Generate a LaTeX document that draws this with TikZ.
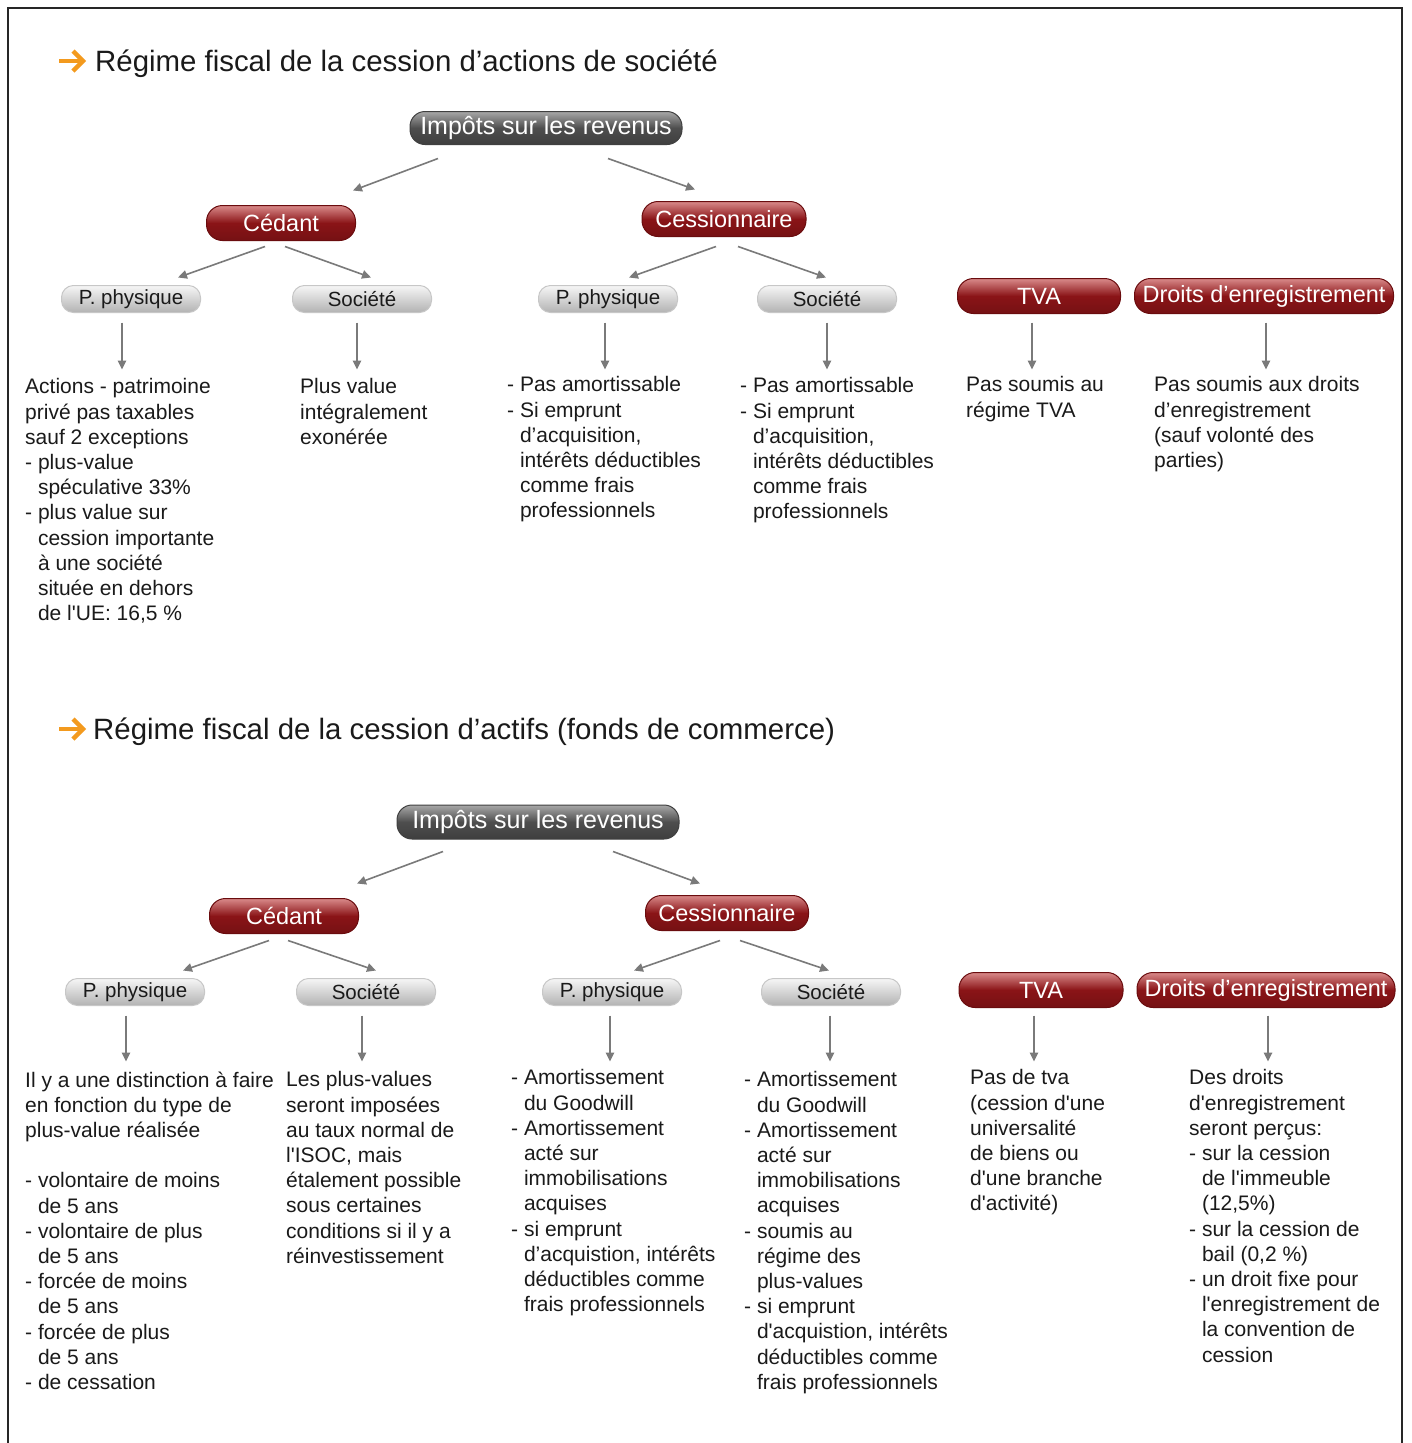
\documentclass[tikz,border=0pt]{standalone}
\usepackage{fontspec}
\setmainfont{Liberation Sans}
\usetikzlibrary{arrows.meta,calc}
\definecolor{txt}{HTML}{1A1A1A}
\definecolor{arrowgray}{HTML}{7A7A7A}
\definecolor{pillred}{HTML}{8A1417}
\definecolor{pillredlt}{HTML}{D98A8A}
\definecolor{pillredbd}{HTML}{6A0C0E}
\definecolor{pilldark}{HTML}{4E4E4E}
\definecolor{pilldarklt}{HTML}{A8A8A8}
\definecolor{pillgray}{HTML}{D4D4D4}
\definecolor{pillgraylt}{HTML}{F6F6F6}
\definecolor{orangeC}{HTML}{F39A1E}
\newcommand{\cind}{\hphantom{-\ }}
\newcommand{\sq}{\textquotesingle}
\tikzset{
  pillbase/.style={rectangle, inner sep=0pt, line width=1pt},
  redpill/.style={pillbase, draw=pillredbd, top color=pillredlt, bottom color=pillred!85!black, middle color=pillred,
     text=white, minimum height=35pt, rounded corners=16pt, font=\fontsize{23.5}{23.5}\selectfont},
  darkpill/.style={pillbase, draw=black!75, top color=pilldarklt, bottom color=pilldark!80!black, middle color=pilldark,
     text=white, minimum height=33pt, rounded corners=15pt, font=\fontsize{25}{25}\selectfont},
  graypill/.style={pillbase, draw=black!22, top color=pillgraylt, bottom color=black!30, middle color=pillgray,
     text=txt, minimum width=139pt, minimum height=27pt, rounded corners=12pt, font=\fontsize{20.5}{20.5}\selectfont},
  body/.style={anchor=north west, align=left, inner sep=0pt, text=txt, font=\fontsize{21}{25.2}\selectfont,
     execute at begin node=\strut},
  title/.style={anchor=base west, inner sep=0pt, text=txt, font=\fontsize{29.4}{29.4}\selectfont},
  arr/.style={draw=arrowgray, line width=1.6pt, -{Triangle[length=9pt,width=8.5pt]}},
  orangearrow/.style={draw=orangeC, line width=4.5pt},
}
\begin{document}
\begin{tikzpicture}[x=1pt,y=-1pt]
\useasboundingbox (0,0) rectangle (1411,1443);
\fill[white] (0,0) rectangle (1411,1443);
% frame
\draw[black!85, line width=1.8pt] (8,1480) -- (8,8) -- (1402,8) -- (1402,1480);

% ===== Section 1 =====
\draw[orangearrow] (59,61) -- (81,61);
\draw[orangearrow, line join=miter] (73,51) -- (83,61) -- (73,71);
\node[title] (title1) at (95,71) {Régime fiscal de la cession d’actions de société};

\node[darkpill, minimum width=272pt] (imp1) at (546,128) {Impôts sur les revenus};
\node[redpill, minimum width=149pt] (ced1) at (281,223) {Cédant};
\node[redpill, minimum width=164pt] (ces1) at (724,219) {Cessionnaire};
\node[graypill] (pp1) at (131,299) {P. physique};
\node[graypill] (so1) at (362,299) {Société};
\node[graypill] (pp2) at (608,299) {P. physique};
\node[graypill] (so2) at (827,299) {Société};
\node[redpill, minimum width=163pt] (tva1) at (1039,296) {TVA};
\node[redpill, minimum width=259pt] (dr1) at (1264,296) {Droits d’enregistrement};

\draw[arr] ($(imp1.south)+(-108,13.5)$) -- ($(ced1.north)+(72,-14.5)$);
\draw[arr] ($(imp1.south)+(62,13.5)$) -- ($(ces1.north)+(-29,-11.5)$);
\draw[arr] ($(ced1.south)+(-16,5.5)$) -- ($(pp1.north)+(47,-7.5)$);
\draw[arr] ($(ced1.south)+(4,5.5)$) -- ($(so1.north)+(9,-7.5)$);
\draw[arr] ($(ces1.south)+(-8,9.5)$) -- ($(pp2.north)+(21,-7.5)$);
\draw[arr] ($(ces1.south)+(14,9.5)$) -- ($(so2.north)+(-1,-7.5)$);

\draw[arr] ($(pp1.south)+(-9,9.5)$) -- ($(pp1.south)+(-9,56.5)$);
\draw[arr] ($(so1.south)+(-5,9.5)$) -- ($(so1.south)+(-5,56.5)$);
\draw[arr] ($(pp2.south)+(-3,9.5)$) -- ($(pp2.south)+(-3,56.5)$);
\draw[arr] ($(so2.south)+(0,9.5)$) -- ($(so2.south)+(0,56.5)$);
\draw[arr] ($(tva1.south)+(-7,8.5)$) -- ($(tva1.south)+(-7,55.5)$);
\draw[arr] ($(dr1.south)+(2,8.5)$) -- ($(dr1.south)+(2,55.5)$);

\node[body] (t1) at (25,378.4) {Actions - patrimoine\\privé pas taxables\\sauf 2 exceptions\\- plus-value\\\cind spéculative 33\%\\- plus value sur\\\cind cession importante\\\cind à une société\\\cind située en dehors\\\cind de l\sq UE: 16,5 \%};
\node[body] (t2) at (300,378.4) {Plus value\\intégralement\\exonérée};
\node[body] (t3) at (507,376.4) {- Pas amortissable\\- Si emprunt\\\cind d’acquisition,\\\cind intérêts déductibles\\\cind comme frais\\\cind professionnels};
\node[body] (t4) at (740,377.4) {- Pas amortissable\\- Si emprunt\\\cind d’acquisition,\\\cind intérêts déductibles\\\cind comme frais\\\cind professionnels};
\node[body] (t5) at (966,376.4) {Pas soumis au\\régime TVA};
\node[body] (t6) at (1154,376.4) {Pas soumis aux droits\\d’enregistrement\\(sauf volonté des\\parties)};

% ===== Section 2 =====
\draw[orangearrow] (59,729) -- (81,729);
\draw[orangearrow, line join=miter] (73,719) -- (83,729) -- (73,739);
\node[title] (title2) at (93,739) {Régime fiscal de la cession d’actifs (fonds de commerce)};

\node[darkpill, minimum width=282pt, minimum height=34pt] (imp2) at (538,822) {Impôts sur les revenus};
\node[redpill, minimum width=149pt] (ced2) at (284,916) {Cédant};
\node[redpill, minimum width=163pt] (ces2) at (727,913) {Cessionnaire};
\node[graypill] (pp3) at (135,992) {P. physique};
\node[graypill] (so3) at (366,992) {Société};
\node[graypill] (pp4) at (612,992) {P. physique};
\node[graypill] (so4) at (831,992) {Société};
\node[redpill, minimum width=164pt] (tva2) at (1041,990) {TVA};
\node[redpill, minimum width=258pt] (dr2) at (1266,990) {Droits d’enregistrement};

\draw[arr] ($(imp2.south)+(-95,12)$) -- ($(ced2.north)+(73,-14.5)$);
\draw[arr] ($(imp2.south)+(75,12)$) -- ($(ces2.north)+(-27,-11.5)$);
\draw[arr] ($(ced2.south)+(-15,6.5)$) -- ($(pp3.north)+(48,-7.5)$);
\draw[arr] ($(ced2.south)+(4,6.5)$) -- ($(so3.north)+(10,-7.5)$);
\draw[arr] ($(ces2.south)+(-7,9.5)$) -- ($(pp4.north)+(22,-7.5)$);
\draw[arr] ($(ces2.south)+(13,9.5)$) -- ($(so4.north)+(-2,-7.5)$);

\draw[arr] ($(pp3.south)+(-9,9.5)$) -- ($(pp3.south)+(-9,55.5)$);
\draw[arr] ($(so3.south)+(-4,9.5)$) -- ($(so3.south)+(-4,55.5)$);
\draw[arr] ($(pp4.south)+(-2,9.5)$) -- ($(pp4.south)+(-2,55.5)$);
\draw[arr] ($(so4.south)+(-1,9.5)$) -- ($(so4.south)+(-1,55.5)$);
\draw[arr] ($(tva2.south)+(-7,7.5)$) -- ($(tva2.south)+(-7,53.5)$);
\draw[arr] ($(dr2.south)+(2,7.5)$) -- ($(dr2.south)+(2,53.5)$);

\node[body] (u1) at (25,1071.4) {Il y a une distinction à faire\\en fonction du type de\\plus-value réalisée\\[25.2pt]- volontaire de moins\\\cind de 5 ans\\- volontaire de plus\\\cind de 5 ans\\- forcée de moins\\\cind de 5 ans\\- forcée de plus\\\cind de 5 ans\\- de cessation};
\node[body] (u2) at (286,1071.4) {Les plus-values\\seront imposées\\au taux normal de\\l\sq ISOC, mais\\étalement possible\\sous certaines\\conditions si il y a\\réinvestissement};
\node[body] (u3) at (511,1069.4) {- Amortissement\\\cind du Goodwill\\- Amortissement\\\cind acté sur\\\cind immobilisations\\\cind acquises\\- si emprunt\\\cind d’acquistion, intérêts\\\cind déductibles comme\\\cind frais professionnels};
\node[body] (u4) at (744,1071.4) {- Amortissement\\\cind du Goodwill\\- Amortissement\\\cind acté sur\\\cind immobilisations\\\cind acquises\\- soumis au\\\cind régime des\\\cind plus-values\\- si emprunt\\\cind d\sq acquistion, intérêts\\\cind déductibles comme\\\cind frais professionnels};
\node[body] (u5) at (970,1069.4) {Pas de tva\\(cession d\sq une\\universalité\\de biens ou\\d\sq une branche\\d\sq activité)};
\node[body] (u6) at (1189,1069.4) {Des droits\\d\sq enregistrement\\seront perçus:\\- sur la cession\\\cind de l\sq immeuble\\\cind (12,5\%)\\- sur la cession de\\\cind bail (0,2 \%)\\- un droit fixe pour\\\cind l\sq enregistrement de\\\cind la convention de\\\cind cession};
\end{tikzpicture}
\end{document}
